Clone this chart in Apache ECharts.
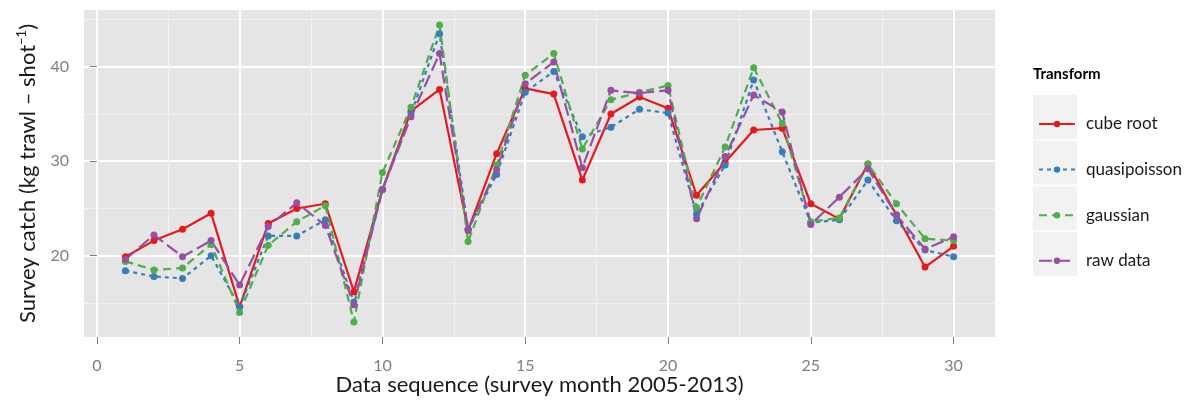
<!DOCTYPE html>
<html>
<head>
<meta charset="utf-8">
<script src="https://cdn.jsdelivr.net/npm/echarts@6/dist/echarts.min.js"></script>
<style>html,body{margin:0;padding:0;background:#fff}#c{width:1194px;height:400px}</style>
</head>
<body>
<div id="c"></div>
<script>
const months = [1,2,3,4,5,6,7,8,9,10,11,12,13,14,15,16,17,18,19,20,21,22,23,24,25,26,27,28,29,30];
const cubeRoot     = [19.9,21.6,22.8,24.5,14.6,23.4,25.0,25.5,16.2,27.0,35.3,37.6,22.7,30.8,37.7,37.1,28.0,35.0,36.8,35.6,26.4,29.9,33.3,33.5,25.5,23.9,29.7,24.3,18.8,21.0];
const quasipoisson = [18.4,17.8,17.6,20.0,14.6,22.1,22.1,23.8,15.1,27.0,35.0,43.5,22.8,28.6,37.3,39.5,32.6,33.6,35.5,35.1,24.4,29.6,38.6,31.0,23.5,23.8,28.0,23.7,20.6,19.9];
const gaussian     = [19.4,18.5,18.7,21.2,14.0,21.1,23.6,25.3,13.0,28.8,35.7,44.4,21.5,29.6,39.1,41.4,31.3,36.5,37.3,38.0,25.1,31.5,39.9,34.0,23.6,24.0,29.7,25.5,21.8,21.6];
const rawData      = [19.6,22.2,19.9,21.6,16.9,23.1,25.6,23.2,14.8,27.0,34.7,41.4,22.8,29.1,38.2,40.5,29.3,37.5,37.2,37.5,23.9,30.5,37.0,35.2,23.3,26.2,29.2,24.3,20.7,22.0];
const seriesNames  = ['cube root','quasipoisson','gaussian','raw data'];
const xTicks = [0,5,10,15,20,25,30];
const xMinorTicks = [2.5,7.5,12.5,17.5,22.5,27.5];
const yTicks = [20,30,40];
const yMinorTicks = [15,25,35,45];

const colors = ['#E41A1C','#377EB8','#4DAF4A','#984EA3'];
const dashes = ['solid',[4,4],[8,5],[13,5]];
const values = [cubeRoot, quasipoisson, gaussian, rawData];

const FONT = 'Lato, "Liberation Sans", sans-serif';
const XMIN = -0.45, XMAX = 31.45, YMIN = 11.4, YMAX = 46.0;

const chart = echarts.init(document.getElementById('c'), null, {renderer:'canvas'});

const series = seriesNames.map((n, i) => ({
  name: n,
  type: 'line',
  xAxisIndex: 1,
  yAxisIndex: 1,
  data: months.map((m, k) => [m, values[i][k]]),
  symbol: 'circle',
  symbolSize: 7,
  showSymbol: true,
  animation: false,
  color: colors[i],
  itemStyle: {color: colors[i]},
  lineStyle: {color: colors[i], width: 2.2, type: dashes[i]},
  emphasis: {disabled: true}
}));

const legendBoxes = [0,1,2,3].map(i => ({
  type: 'rect',
  shape: {x: 1033, y: 95 + i * 45.6, width: 44, height: 44},
  style: {fill: '#F2F2F2'},
  z: -1
}));

const hiddenLine = {show: true, lineStyle: {color: 'rgba(0,0,0,0)', width: 0}};

chart.setOption({
  animation: false,
  backgroundColor: '#fff',
  grid: {left: 84, right: 199, top: 10, bottom: 63, show: true, backgroundColor: '#E5E5E5', borderWidth: 0,
         containLabel: false, outerBoundsMode: 'none'},
  xAxis: [
    {type: 'value', min: XMIN, max: XMAX, position: 'bottom',
     axisLine: {show: false}, axisLabel: {show: false},
     axisTick: {show: false, customValues: xMinorTicks},
     splitLine: {show: true, lineStyle: {color: '#F2F2F2', width: 1}}},
    {type: 'value', min: XMIN, max: XMAX, position: 'bottom',
     name: 'Data sequence (survey month 2005-2013)', nameLocation: 'middle', nameGap: 37, nameMoveOverlap: false,
     nameTextStyle: {fontFamily: FONT, fontSize: 22, color: '#1a1a1a'},
     axisLine: hiddenLine,
     axisTick: {show: true, inside: false, length: 7, customValues: xTicks, lineStyle: {color: '#7F7F7F', width: 1}},
     axisLabel: {customValues: xTicks, margin: 21, fontFamily: FONT, fontSize: 16, color: '#7F7F7F'},
     splitLine: {show: true, lineStyle: {color: '#FFFFFF', width: 2}}}
  ],
  yAxis: [
    {type: 'value', min: YMIN, max: YMAX, position: 'left',
     axisLine: {show: false}, axisLabel: {show: false},
     axisTick: {show: false, customValues: yMinorTicks},
     splitLine: {show: true, lineStyle: {color: '#F2F2F2', width: 1}}},
    {type: 'value', min: YMIN, max: YMAX, position: 'left',
     name: 'Survey catch (kg trawl \u2013 shot{sup|\u22121})', nameLocation: 'middle', nameGap: 43, nameRotate: 90, nameMoveOverlap: false,
     nameTextStyle: {fontFamily: FONT, fontSize: 22, color: '#1a1a1a', lineHeight: 26,
       rich: {sup: {fontFamily: FONT, fontSize: 13, color: '#1a1a1a', verticalAlign: 'top', lineHeight: 26, padding: [0,0,16,0]}}},
     axisLine: hiddenLine,
     axisTick: {show: true, inside: false, length: 7, customValues: yTicks, lineStyle: {color: '#7F7F7F', width: 1}},
     axisLabel: {customValues: yTicks, margin: 15, fontFamily: FONT, fontSize: 16, color: '#7F7F7F'},
     splitLine: {show: true, lineStyle: {color: '#FFFFFF', width: 2}}}
  ],
  legend: {
    orient: 'vertical',
    left: 1038, top: 114,
    padding: 0,
    itemWidth: 36, itemHeight: 8, itemGap: 25.6,
    data: seriesNames,
    selectedMode: false,
    textStyle: {fontFamily: FONT, fontSize: 17, color: '#1a1a1a', lineHeight: 20, padding: [0,0,0,6]}
  },
  graphic: [
    {type: 'text', left: 1033, top: 67, style: {text: 'Transform', fontFamily: FONT, fontSize: 15, fontWeight: 'bold', fill: '#000'}},
    ...legendBoxes
  ],
  series: series
});
</script>
</body>
</html>
